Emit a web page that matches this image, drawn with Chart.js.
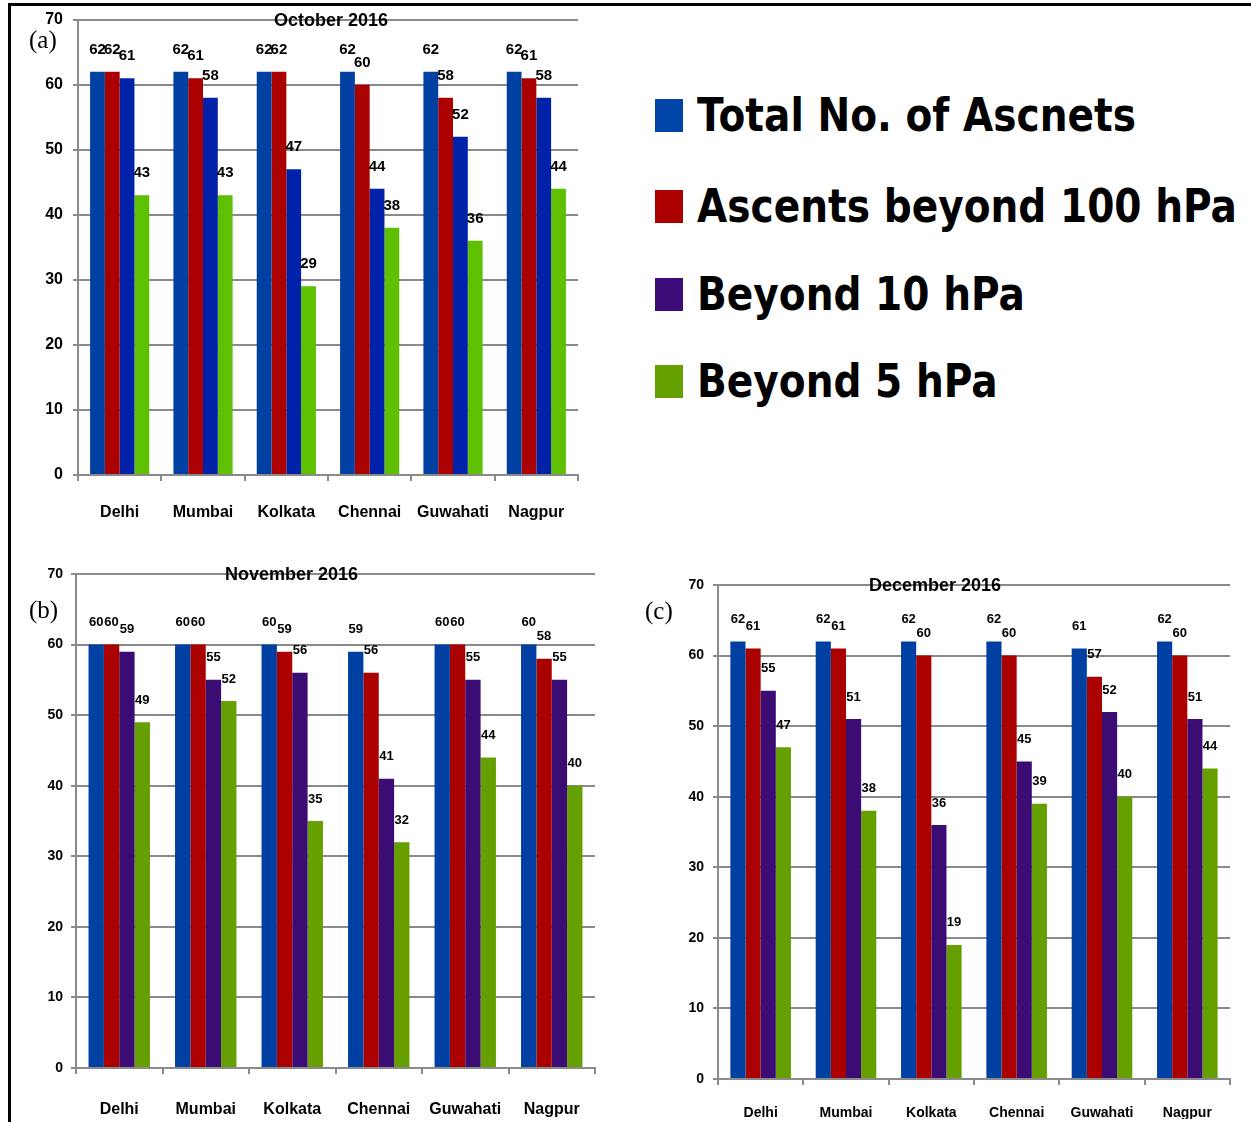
<!DOCTYPE html>
<html>
<head>
<meta charset="utf-8">
<title>Ascents October - December 2016</title>
<script src="https://cdn.jsdelivr.net/npm/chart.js@4.4.1/dist/chart.umd.min.js"></script>
<style>
  html, body { margin: 0; padding: 0; background: #fff; }
  #page { position: relative; width: 1251px; height: 1122px; overflow: hidden; }
  .box { position: absolute; }
  .frameTop { position: absolute; left: 8px; top: 3px; width: 1243px; height: 3px; background: #000; }
  .frameLeft { position: absolute; left: 8px; top: 3px; width: 3px; height: 1119px; background: #000; }
  .panel { position: absolute; font-family: "Liberation Serif", "DejaVu Serif", serif; font-size: 25px; color: #000; }
  #legend { position: absolute; left: 655px; top: 0; }
  .item { position: absolute; left: 0; white-space: nowrap; }
  .sw { position: absolute; left: 0; width: 28px; height: 33px; }
  .lt { position: absolute; left: 42px; font-family: "DejaVu Sans", sans-serif; font-weight: bold; font-size: 46px;
        line-height: 1; transform-origin: 0 50%; transform: scaleX(0.85); color: #000; }
</style>
</head>
<body>
<div id="page">
  <div class="box" style="left:0;top:0;width:600px;height:545px"><canvas id="oct"></canvas></div>
  <div class="box" style="left:0;top:545px;width:620px;height:577px"><canvas id="nov"></canvas></div>
  <div class="box" style="left:625px;top:545px;width:626px;height:577px"><canvas id="dec"></canvas></div>
  <div class="frameTop"></div>
  <div class="frameLeft"></div>
  <div class="panel" style="left:29px;top:26px">(a)</div>
  <div class="panel" style="left:29px;top:596px">(b)</div>
  <div class="panel" style="left:645px;top:597px">(c)</div>
  <div id="legend"></div>
</div>
<script>
// categorias e series
var cities = ['Delhi', 'Mumbai', 'Kolkata', 'Chennai', 'Guwahati', 'Nagpur'];
var seriesNames = ['Total No. of Ascnets', 'Ascents beyond 100 hPa', 'Beyond 10 hPa', 'Beyond 5 hPa'];
var yTicks = [0, 10, 20, 30, 40, 50, 60, 70];

// outubro
var octTotal = [62, 62, 62, 62, 62, 62];
var octBeyond100 = [62, 61, 62, 60, 58, 61];
var octBeyond10 = [61, 58, 47, 44, 52, 58];
var octBeyond5 = [43, 43, 29, 38, 36, 44];

// novembro
var novTotal = [60, 60, 60, 59, 60, 60];
var novBeyond100 = [60, 60, 59, 56, 60, 58];
var novBeyond10 = [59, 55, 56, 41, 55, 55];
var novBeyond5 = [49, 52, 35, 32, 44, 40];

// dezembro
var decTotal = [62, 62, 62, 62, 61, 62];
var decBeyond100 = [61, 61, 60, 60, 57, 60];
var decBeyond10 = [55, 51, 36, 45, 52, 51];
var decBeyond5 = [47, 38, 19, 39, 40, 44];

var FONT = '"Liberation Sans", Arial, sans-serif';
var GRID = '#8a8a8a';
var legendColors = ['#0044a8', '#aa0000', '#3b0c78', '#66a000'];

// desenha os valores em cima das barras
var barValues = {
    id: 'barValues',
    afterDatasetsDraw: function (chart, args, opts) {
        var ctx = chart.ctx;
        ctx.save();
        ctx.fillStyle = '#000';
        ctx.font = 'bold ' + opts.size + 'px ' + FONT;
        ctx.textAlign = 'center';
        ctx.textBaseline = 'middle';
        chart.data.datasets.forEach(function (ds, i) {
            chart.getDatasetMeta(i).data.forEach(function (bar, j) {
                ctx.fillText(ds.data[j], bar.x, bar.y - opts.offset);
            });
        });
        ctx.restore();
    }
};

// titulo em cima da linha de 70
var topTitle = {
    id: 'topTitle',
    afterDraw: function (chart, args, opts) {
        var a = chart.chartArea;
        var ctx = chart.ctx;
        ctx.save();
        ctx.fillStyle = '#000';
        ctx.font = 'bold ' + opts.size + 'px ' + FONT;
        ctx.textAlign = 'center';
        ctx.textBaseline = 'middle';
        ctx.fillText(opts.text, (a.left + a.right) / 2 + opts.dx, a.top + 1);
        ctx.restore();
    }
};

function makeChart(id, title, series, colors, s) {
    return new Chart(document.getElementById(id), {
        type: 'bar',
        data: {
            labels: cities,
            datasets: series.map(function (d, i) {
                return {
                    label: seriesNames[i],
                    data: d,
                    backgroundColor: colors[i],
                    categoryPercentage: 0.71,
                    barPercentage: 1.0
                };
            })
        },
        options: {
            responsive: true,
            maintainAspectRatio: false,
            animation: false,
            layout: { padding: s.pad },
            plugins: {
                legend: { display: false },
                tooltip: { enabled: false },
                barValues: { size: s.valSize, offset: 22 },
                topTitle: { text: title, size: s.titleSize, dx: s.titleDx }
            },
            scales: {
                x: {
                    grid: { drawOnChartArea: false, color: GRID, lineWidth: 2, tickLength: 6 },
                    border: { color: GRID, width: 2 },
                    ticks: { color: '#000', padding: s.xPad, maxRotation: 0, minRotation: 0, autoSkip: false,
                             font: { family: FONT, weight: 'bold', size: s.xSize } },
                    afterFit: function (sc) { sc.height = s.xHeight; }
                },
                y: {
                    min: 0,
                    max: 70,
                    afterBuildTicks: function (sc) { sc.ticks = yTicks.map(function (v) { return { value: v }; }); },
                    grid: { color: GRID, lineWidth: 2, tickLength: 5 },
                    border: { color: GRID, width: 2 },
                    ticks: { color: '#000', padding: s.yPad, font: { family: FONT, weight: 'bold', size: s.ySize } },
                    afterFit: function (sc) { sc.width = s.yWidth; }
                }
            }
        },
        plugins: [barValues, topTitle]
    });
}

var rel1 = makeChart('oct', 'October 2016',
    [octTotal, octBeyond100, octBeyond10, octBeyond5],
    ['#0040a3', '#aa0000', '#0022a8', '#5ec000'],
    { pad: { left: 20, right: 22, top: 17, bottom: 20 }, yWidth: 58, xHeight: 50,
      xPad: 22, yPad: 10, xSize: 16, ySize: 16, valSize: 15, titleSize: 18, titleDx: 3 });

var rel2 = makeChart('nov', 'November 2016',
    [novTotal, novBeyond100, novBeyond10, novBeyond5],
    ['#0040a3', '#aa0000', '#3b0c74', '#66a000'],
    { pad: { left: 20, right: 25, top: 29, bottom: 4 }, yWidth: 56, xHeight: 50,
      xPad: 26, yPad: 8, xSize: 16, ySize: 14, valSize: 13, titleSize: 18, titleDx: -44 });

var rel3 = makeChart('dec', 'December 2016',
    [decTotal, decBeyond100, decBeyond10, decBeyond5],
    ['#0040a3', '#aa0000', '#3b0c74', '#66a000'],
    { pad: { left: 20, right: 21, top: 40, bottom: 3 }, yWidth: 73, xHeight: 40,
      xPad: 20, yPad: 9, xSize: 14, ySize: 14, valSize: 13, titleSize: 18, titleDx: -39 });

// legenda grande a direita
var legendTops = [97, 188, 276, 363];
var legend = document.getElementById('legend');
seriesNames.forEach(function (name, i) {
    var item = document.createElement('div');
    item.className = 'item';
    item.style.top = legendTops[i] + 'px';
    item.innerHTML = '<div class="sw" style="top:2px;background:' + legendColors[i] + '"></div>' +
        '<div class="lt" style="top:-5px">' + name + '</div>';
    legend.appendChild(item);
});
</script>
</body>
</html>
